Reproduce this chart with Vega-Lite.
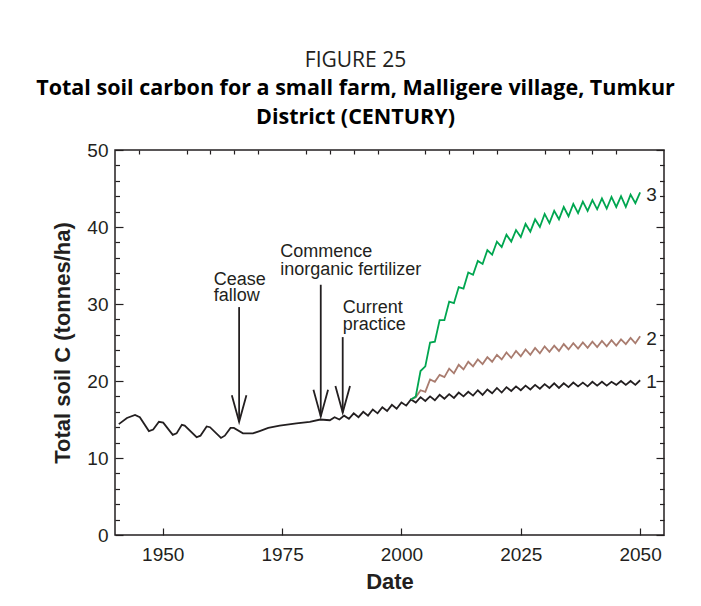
{
  "$schema": "https://vega.github.io/schema/vega-lite/v6.json",
  "autosize": {"type": "none"},
  "width": 549,
  "height": 385,
  "padding": {"left": 115, "top": 150, "right": 37, "bottom": 71},
  "background": "white",
  "title": {
    "text": "FIGURE 25",
    "subtitle": ["Total soil carbon for a small farm, Malligere village, Tumkur", "District (CENTURY)"],
    "anchor": "middle",
    "dx": -34,
    "offset": 13,
    "font": "Open Sans",
    "fontSize": 21,
    "fontWeight": "normal",
    "color": "#231f20",
    "subtitleFont": "Open Sans",
    "subtitleFontSize": 21.5,
    "subtitleFontWeight": "bold",
    "subtitleColor": "#000000",
    "subtitleLineHeight": 29,
    "subtitlePadding": 7
  },
  "config": {
    "view": {"stroke": "#231f20", "strokeWidth": 1.5},
    "axis": {
      "grid": false,
      "domain": false,
      "labelOverlap": false,
      "labelFont": "Liberation Sans",
      "labelFontSize": 19,
      "labelColor": "#231f20",
      "titleFont": "Liberation Sans",
      "titleFontSize": 22,
      "titleFontWeight": "bold",
      "titleColor": "#231f20",
      "tickColor": "#231f20",
      "tickWidth": 1.2
    },
    "text": {"font": "Liberation Sans", "color": "#231f20"}
  },
  "datasets": {
    "series": [
      {"year": 1940.8, "value": 14.4, "series": "1"},
      {"year": 1942.5, "value": 15.2, "series": "1"},
      {"year": 1944.2, "value": 15.6, "series": "1"},
      {"year": 1945.2, "value": 15.3, "series": "1"},
      {"year": 1947.1, "value": 13.5, "series": "1"},
      {"year": 1948.0, "value": 13.7, "series": "1"},
      {"year": 1949.2, "value": 14.7, "series": "1"},
      {"year": 1950.1, "value": 14.6, "series": "1"},
      {"year": 1952.1, "value": 13.0, "series": "1"},
      {"year": 1952.9, "value": 13.2, "series": "1"},
      {"year": 1954.0, "value": 14.3, "series": "1"},
      {"year": 1954.6, "value": 14.2, "series": "1"},
      {"year": 1957.1, "value": 12.7, "series": "1"},
      {"year": 1957.9, "value": 12.9, "series": "1"},
      {"year": 1959.2, "value": 14.1, "series": "1"},
      {"year": 1959.9, "value": 14.0, "series": "1"},
      {"year": 1962.2, "value": 12.6, "series": "1"},
      {"year": 1963.0, "value": 12.9, "series": "1"},
      {"year": 1964.2, "value": 13.9, "series": "1"},
      {"year": 1964.9, "value": 13.9, "series": "1"},
      {"year": 1966.8, "value": 13.2, "series": "1"},
      {"year": 1968.9, "value": 13.2, "series": "1"},
      {"year": 1970.3, "value": 13.5, "series": "1"},
      {"year": 1972.1, "value": 13.9, "series": "1"},
      {"year": 1974.5, "value": 14.2, "series": "1"},
      {"year": 1978.0, "value": 14.5, "series": "1"},
      {"year": 1980.8, "value": 14.7, "series": "1"},
      {"year": 1983.0, "value": 15.0, "series": "1"},
      {"year": 1985.0, "value": 14.9, "series": "1"},
      {"year": 1986, "value": 15.3, "series": "1"},
      {"year": 1987, "value": 15.0, "series": "1"},
      {"year": 1988, "value": 15.5, "series": "1"},
      {"year": 1989, "value": 15.1, "series": "1"},
      {"year": 1990, "value": 15.8, "series": "1"},
      {"year": 1991, "value": 15.3, "series": "1"},
      {"year": 1992, "value": 16.0, "series": "1"},
      {"year": 1993, "value": 15.5, "series": "1"},
      {"year": 1994, "value": 16.3, "series": "1"},
      {"year": 1995, "value": 15.8, "series": "1"},
      {"year": 1996, "value": 16.6, "series": "1"},
      {"year": 1997, "value": 16.1, "series": "1"},
      {"year": 1998, "value": 16.9, "series": "1"},
      {"year": 1999, "value": 16.4, "series": "1"},
      {"year": 2000, "value": 17.2, "series": "1"},
      {"year": 2001, "value": 16.8, "series": "1"},
      {"year": 2002, "value": 17.6, "series": "1"},
      {"year": 2003, "value": 17.2, "series": "1"},
      {"year": 2004, "value": 17.9, "series": "1"},
      {"year": 2005, "value": 17.4, "series": "1"},
      {"year": 2006, "value": 18.0, "series": "1"},
      {"year": 2007, "value": 17.5, "series": "1"},
      {"year": 2008, "value": 18.2, "series": "1"},
      {"year": 2009, "value": 17.7, "series": "1"},
      {"year": 2010, "value": 18.3, "series": "1"},
      {"year": 2011, "value": 17.8, "series": "1"},
      {"year": 2012, "value": 18.5, "series": "1"},
      {"year": 2013, "value": 18.0, "series": "1"},
      {"year": 2014, "value": 18.6, "series": "1"},
      {"year": 2015, "value": 18.1, "series": "1"},
      {"year": 2016, "value": 18.8, "series": "1"},
      {"year": 2017, "value": 18.2, "series": "1"},
      {"year": 2018, "value": 18.9, "series": "1"},
      {"year": 2019, "value": 18.4, "series": "1"},
      {"year": 2020, "value": 19.1, "series": "1"},
      {"year": 2021, "value": 18.5, "series": "1"},
      {"year": 2022, "value": 19.2, "series": "1"},
      {"year": 2023, "value": 18.7, "series": "1"},
      {"year": 2024, "value": 19.3, "series": "1"},
      {"year": 2025, "value": 18.8, "series": "1"},
      {"year": 2026, "value": 19.4, "series": "1"},
      {"year": 2027, "value": 18.9, "series": "1"},
      {"year": 2028, "value": 19.5, "series": "1"},
      {"year": 2029, "value": 19.0, "series": "1"},
      {"year": 2030, "value": 19.6, "series": "1"},
      {"year": 2031, "value": 19.1, "series": "1"},
      {"year": 2032, "value": 19.7, "series": "1"},
      {"year": 2033, "value": 19.1, "series": "1"},
      {"year": 2034, "value": 19.7, "series": "1"},
      {"year": 2035, "value": 19.2, "series": "1"},
      {"year": 2036, "value": 19.8, "series": "1"},
      {"year": 2037, "value": 19.3, "series": "1"},
      {"year": 2038, "value": 19.8, "series": "1"},
      {"year": 2039, "value": 19.3, "series": "1"},
      {"year": 2040, "value": 19.9, "series": "1"},
      {"year": 2041, "value": 19.4, "series": "1"},
      {"year": 2042, "value": 19.9, "series": "1"},
      {"year": 2043, "value": 19.4, "series": "1"},
      {"year": 2044, "value": 19.9, "series": "1"},
      {"year": 2045, "value": 19.5, "series": "1"},
      {"year": 2046, "value": 20.0, "series": "1"},
      {"year": 2047, "value": 19.5, "series": "1"},
      {"year": 2048, "value": 20.0, "series": "1"},
      {"year": 2049, "value": 19.5, "series": "1"},
      {"year": 2050, "value": 20.1, "series": "1"},
      {"year": 2002, "value": 17.6, "series": "2"},
      {"year": 2003, "value": 17.9, "series": "2"},
      {"year": 2004, "value": 18.8, "series": "2"},
      {"year": 2005, "value": 18.6, "series": "2"},
      {"year": 2006, "value": 20.2, "series": "2"},
      {"year": 2007, "value": 19.9, "series": "2"},
      {"year": 2008, "value": 20.8, "series": "2"},
      {"year": 2009, "value": 20.5, "series": "2"},
      {"year": 2010, "value": 21.6, "series": "2"},
      {"year": 2011, "value": 21.0, "series": "2"},
      {"year": 2012, "value": 22.1, "series": "2"},
      {"year": 2013, "value": 21.5, "series": "2"},
      {"year": 2014, "value": 22.5, "series": "2"},
      {"year": 2015, "value": 21.9, "series": "2"},
      {"year": 2016, "value": 22.8, "series": "2"},
      {"year": 2017, "value": 22.2, "series": "2"},
      {"year": 2018, "value": 23.1, "series": "2"},
      {"year": 2019, "value": 22.5, "series": "2"},
      {"year": 2020, "value": 23.4, "series": "2"},
      {"year": 2021, "value": 22.8, "series": "2"},
      {"year": 2022, "value": 23.7, "series": "2"},
      {"year": 2023, "value": 23.0, "series": "2"},
      {"year": 2024, "value": 23.9, "series": "2"},
      {"year": 2025, "value": 23.2, "series": "2"},
      {"year": 2026, "value": 24.1, "series": "2"},
      {"year": 2027, "value": 23.4, "series": "2"},
      {"year": 2028, "value": 24.3, "series": "2"},
      {"year": 2029, "value": 23.6, "series": "2"},
      {"year": 2030, "value": 24.5, "series": "2"},
      {"year": 2031, "value": 23.8, "series": "2"},
      {"year": 2032, "value": 24.6, "series": "2"},
      {"year": 2033, "value": 23.9, "series": "2"},
      {"year": 2034, "value": 24.8, "series": "2"},
      {"year": 2035, "value": 24.1, "series": "2"},
      {"year": 2036, "value": 24.9, "series": "2"},
      {"year": 2037, "value": 24.2, "series": "2"},
      {"year": 2038, "value": 25.0, "series": "2"},
      {"year": 2039, "value": 24.3, "series": "2"},
      {"year": 2040, "value": 25.1, "series": "2"},
      {"year": 2041, "value": 24.4, "series": "2"},
      {"year": 2042, "value": 25.2, "series": "2"},
      {"year": 2043, "value": 24.5, "series": "2"},
      {"year": 2044, "value": 25.3, "series": "2"},
      {"year": 2045, "value": 24.6, "series": "2"},
      {"year": 2046, "value": 25.4, "series": "2"},
      {"year": 2047, "value": 24.8, "series": "2"},
      {"year": 2048, "value": 25.6, "series": "2"},
      {"year": 2049, "value": 24.9, "series": "2"},
      {"year": 2050, "value": 25.8, "series": "2"},
      {"year": 2002, "value": 17.6, "series": "3"},
      {"year": 2003, "value": 18.0, "series": "3"},
      {"year": 2004, "value": 21.3, "series": "3"},
      {"year": 2005, "value": 21.9, "series": "3"},
      {"year": 2006, "value": 25.0, "series": "3"},
      {"year": 2007, "value": 25.1, "series": "3"},
      {"year": 2008, "value": 27.9, "series": "3"},
      {"year": 2009, "value": 27.9, "series": "3"},
      {"year": 2010, "value": 30.3, "series": "3"},
      {"year": 2011, "value": 30.1, "series": "3"},
      {"year": 2012, "value": 32.2, "series": "3"},
      {"year": 2013, "value": 32.0, "series": "3"},
      {"year": 2014, "value": 34.1, "series": "3"},
      {"year": 2015, "value": 33.8, "series": "3"},
      {"year": 2016, "value": 35.6, "series": "3"},
      {"year": 2017, "value": 35.2, "series": "3"},
      {"year": 2018, "value": 37.0, "series": "3"},
      {"year": 2019, "value": 36.4, "series": "3"},
      {"year": 2020, "value": 38.1, "series": "3"},
      {"year": 2021, "value": 37.4, "series": "3"},
      {"year": 2022, "value": 39.0, "series": "3"},
      {"year": 2023, "value": 38.1, "series": "3"},
      {"year": 2024, "value": 39.6, "series": "3"},
      {"year": 2025, "value": 38.7, "series": "3"},
      {"year": 2026, "value": 40.4, "series": "3"},
      {"year": 2027, "value": 39.4, "series": "3"},
      {"year": 2028, "value": 41.0, "series": "3"},
      {"year": 2029, "value": 40.0, "series": "3"},
      {"year": 2030, "value": 41.7, "series": "3"},
      {"year": 2031, "value": 40.5, "series": "3"},
      {"year": 2032, "value": 42.1, "series": "3"},
      {"year": 2033, "value": 41.0, "series": "3"},
      {"year": 2034, "value": 42.6, "series": "3"},
      {"year": 2035, "value": 41.4, "series": "3"},
      {"year": 2036, "value": 43.0, "series": "3"},
      {"year": 2037, "value": 41.8, "series": "3"},
      {"year": 2038, "value": 43.3, "series": "3"},
      {"year": 2039, "value": 42.1, "series": "3"},
      {"year": 2040, "value": 43.5, "series": "3"},
      {"year": 2041, "value": 42.3, "series": "3"},
      {"year": 2042, "value": 43.7, "series": "3"},
      {"year": 2043, "value": 42.4, "series": "3"},
      {"year": 2044, "value": 43.9, "series": "3"},
      {"year": 2045, "value": 42.6, "series": "3"},
      {"year": 2046, "value": 44.0, "series": "3"},
      {"year": 2047, "value": 42.6, "series": "3"},
      {"year": 2048, "value": 44.2, "series": "3"},
      {"year": 2049, "value": 43.1, "series": "3"},
      {"year": 2050, "value": 44.5, "series": "3"}
    ],
    "labels": [
      {"year": 2051.3, "value": 19.9, "label": "1"},
      {"year": 2051.3, "value": 25.5, "label": "2"},
      {"year": 2051.3, "value": 44.2, "label": "3"}
    ],
    "arrows": [
      {"name": "cease", "year": 1966.0, "top": 29.6, "tip": 14.7},
      {"name": "commence", "year": 1983.1, "top": 32.5, "tip": 15.4},
      {"name": "current", "year": 1987.7, "top": 25.7, "tip": 15.9}
    ],
    "heads": [
      {"name": "cease", "year": 1964.47, "value": 18.16},
      {"name": "cease", "year": 1966.0, "value": 14.7},
      {"name": "cease", "year": 1967.53, "value": 18.16},
      {"name": "commence", "year": 1981.57, "value": 18.86},
      {"name": "commence", "year": 1983.1, "value": 15.4},
      {"name": "commence", "year": 1984.63, "value": 18.86},
      {"name": "current", "year": 1986.17, "value": 19.36},
      {"name": "current", "year": 1987.7, "value": 15.9},
      {"name": "current", "year": 1989.23, "value": 19.36}
    ],
    "notes": [
      {"year": 1960.7, "value": 32.5, "text": "Cease"},
      {"year": 1960.7, "value": 30.4, "text": "fallow"},
      {"year": 1974.6, "value": 36.1, "text": "Commence"},
      {"year": 1974.6, "value": 33.8, "text": "inorganic fertilizer"},
      {"year": 1987.7, "value": 28.8, "text": "Current"},
      {"year": 1987.7, "value": 26.6, "text": "practice"}
    ]
  },
  "layer": [
    {
      "data": {"name": "series"},
      "mark": {"type": "line", "strokeWidth": 1.8, "clip": true},
      "encoding": {
        "x": {
          "field": "year", "type": "quantitative",
          "scale": {"domain": [1940, 2055], "nice": false, "zero": false},
          "axis": {
            "title": "Date",
            "titlePadding": 7,
            "values": [1950, 1975, 2000, 2025, 2050],
            "labelExpr": "'' + datum.value",
            "tickSize": -7,
            "labelPadding": 17
          }
        },
        "y": {
          "field": "value", "type": "quantitative",
          "scale": {"domain": [0, 50], "nice": false},
          "axis": {
            "title": "Total soil C (tonnes/ha)",
            "titlePadding": 12,
            "values": [0, 10, 20, 30, 40, 50],
            "tickSize": -8,
            "labelPadding": 15
          }
        },
        "color": {
          "field": "series", "type": "nominal",
          "scale": {"domain": ["1", "2", "3"], "range": ["#231f20", "#a97c6f", "#00a650"]},
          "legend": null
        }
      }
    },
    {
      "data": {"name": "labels"},
      "mark": {"type": "text", "align": "left", "baseline": "middle", "fontSize": 19},
      "encoding": {
        "x": {"field": "year", "type": "quantitative", "axis": null},
        "y": {
          "field": "value", "type": "quantitative",
          "axis": {
            "orient": "right",
            "title": null,
            "labels": false,
            "values": [0, 10, 20, 30, 40, 50],
            "tickSize": -8
          }
        },
        "text": {"field": "label"}
      }
    },
    {
      "data": {"name": "arrows"},
      "mark": {"type": "rule", "strokeWidth": 1.8, "color": "#231f20"},
      "encoding": {
        "x": {
          "field": "year", "type": "quantitative",
          "axis": {
            "title": null,
            "labels": false,
            "values": [1945, 1955, 1960, 1965, 1970, 1980, 1985, 1990, 1995, 2005, 2010, 2015, 2020, 2030, 2035, 2040, 2045],
            "tickSize": -4
          }
        },
        "y": {
          "field": "top", "type": "quantitative",
          "axis": {
            "orient": "left",
            "title": null,
            "labels": false,
            "values": [2, 4, 6, 8, 12, 14, 16, 18, 22, 24, 26, 28, 32, 34, 36, 38, 42, 44, 46, 48],
            "tickSize": -4.5
          }
        },
        "y2": {"field": "tip"}
      }
    },
    {
      "data": {"name": "heads"},
      "mark": {"type": "line", "strokeWidth": 1.8, "color": "#231f20"},
      "encoding": {
        "x": {"field": "year", "type": "quantitative", "axis": null},
        "y": {
          "field": "value", "type": "quantitative",
          "axis": {
            "orient": "right",
            "title": null,
            "labels": false,
            "values": [2, 4, 6, 8, 12, 14, 16, 18, 22, 24, 26, 28, 32, 34, 36, 38, 42, 44, 46, 48],
            "tickSize": -4.5
          }
        },
        "detail": {"field": "name"}
      }
    },
    {
      "data": {"name": "notes"},
      "mark": {"type": "text", "align": "left", "baseline": "alphabetic", "fontSize": 18},
      "encoding": {
        "x": {"field": "year", "type": "quantitative", "axis": null},
        "y": {"field": "value", "type": "quantitative", "axis": null},
        "text": {"field": "text"}
      }
    }
  ],
  "resolve": {"axis": {"x": "independent", "y": "independent"}}
}
